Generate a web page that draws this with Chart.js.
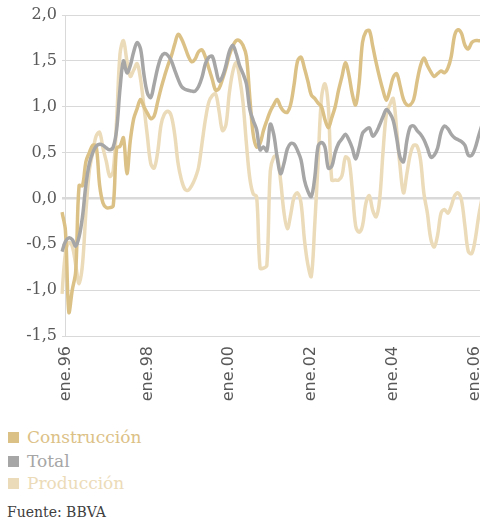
<!DOCTYPE html>
<html>
<head>
<meta charset="utf-8">
<script src="https://cdn.jsdelivr.net/npm/chart.js@4/dist/chart.umd.min.js"></script>
<style>
  html, body { margin: 0; padding: 0; background: #fff; width: 480px; height: 522px; overflow: hidden; }
  #wrap { position: absolute; left: 0; top: 0; width: 490px; height: 416px; }
  .leg { position: absolute; left: 8px; height: 12px; display: flex; align-items: center; font-family: "DejaVu Serif", serif; font-size: 17px; white-space: nowrap; }
  .leg span.box { display: inline-block; width: 11px; height: 11px; margin-right: 8px; }
  #fuente { position: absolute; left: 7px; top: 504px; font-family: "DejaVu Serif", serif; font-size: 14px; color: #404040; }
</style>
</head>
<body>
<div id="wrap"><canvas id="chart"></canvas></div>
<div class="leg" style="top:431px;color:#dcc186"><span class="box" style="background:#dcc186"></span>Construcción</div>
<div class="leg" style="top:455px;color:#a6a6a6"><span class="box" style="background:#a6a6a6"></span>Total</div>
<div class="leg" style="top:477px;color:#ecdbb8"><span class="box" style="background:#ecdbb8"></span>Producción</div>
<div id="fuente">Fuente: BBVA</div>
<script>
// monthly series, dic.95 .. mar.06
const meses = ['ene','feb','mar','abr','may','jun','jul','ago','sep','oct','nov','dic'];
const tickLabels = ['ene.96','ene.98','ene.00','ene.02','ene.04','ene.06'];

const labels = ['dic.95'];
for (let y = 96; y <= 106; y++) {
    for (let m = 0; m < 12; m++) {
        if (y === 106 && m > 2) break;
        labels.push(meses[m] + '.' + String(y % 100).padStart(2, '0'));
    }
}

const construccion = [
    -0.15,-0.35,-1.24,-1.0,-0.8,0.14,0.14,0.4,0.5,0.58,
    0.57,0.15,-0.05,-0.1,-0.1,-0.08,0.55,0.57,0.66,0.27,
    0.63,0.87,0.98,1.08,1.0,0.93,0.87,0.9,1.05,1.2,
    1.33,1.45,1.55,1.68,1.79,1.74,1.65,1.55,1.49,1.52,
    1.6,1.62,1.54,1.42,1.3,1.18,1.2,1.3,1.42,1.56,
    1.66,1.72,1.72,1.67,1.55,1.1,0.7,0.56,0.6,0.74,
    0.85,0.95,1.02,1.08,1.0,0.95,0.94,1.03,1.25,1.5,
    1.54,1.42,1.28,1.13,1.09,1.04,1.0,0.86,0.77,0.88,
    1.0,1.18,1.33,1.48,1.35,1.14,1.02,1.25,1.7,1.82,
    1.83,1.66,1.48,1.32,1.18,1.07,1.18,1.32,1.36,1.23,
    1.08,1.02,1.02,1.08,1.28,1.45,1.53,1.45,1.38,1.33,
    1.36,1.39,1.37,1.42,1.55,1.78,1.84,1.8,1.67,1.63,
    1.7,1.72,1.72,1.72
];

const total = [
    -0.58,-0.47,-0.43,-0.45,-0.52,-0.42,-0.2,0.15,0.38,0.5,
    0.57,0.59,0.58,0.55,0.53,0.56,0.75,1.2,1.5,1.37,
    1.45,1.6,1.7,1.63,1.35,1.15,1.1,1.25,1.42,1.54,
    1.58,1.56,1.5,1.4,1.3,1.22,1.19,1.18,1.17,1.17,
    1.22,1.32,1.47,1.54,1.55,1.42,1.28,1.33,1.45,1.6,
    1.67,1.58,1.45,1.36,1.25,0.97,0.85,0.75,0.53,0.56,
    0.52,0.81,0.7,0.45,0.27,0.38,0.54,0.6,0.59,0.52,
    0.42,0.2,0.08,0.02,0.22,0.57,0.61,0.56,0.33,0.35,
    0.5,0.6,0.65,0.7,0.64,0.55,0.43,0.55,0.71,0.75,
    0.77,0.68,0.72,0.8,0.89,0.97,0.93,0.85,0.66,0.45,
    0.4,0.63,0.78,0.79,0.74,0.7,0.64,0.55,0.45,0.47,
    0.55,0.72,0.79,0.76,0.7,0.66,0.64,0.62,0.58,0.47,
    0.47,0.55,0.68,0.8
];

const produccion = [
    -1.04,-0.6,-0.48,-0.52,-0.72,-0.93,-0.72,-0.15,0.3,0.5,
    0.68,0.72,0.55,0.4,0.24,0.3,0.85,1.58,1.72,1.5,
    1.33,1.4,1.47,1.3,1.0,0.68,0.38,0.33,0.5,0.8,
    0.92,0.95,0.9,0.7,0.38,0.2,0.1,0.09,0.14,0.22,
    0.34,0.6,0.86,1.05,1.12,1.14,0.95,0.74,0.8,1.15,
    1.38,1.48,1.32,1.05,0.6,0.22,0.05,0.02,-0.76,-0.76,
    -0.73,0.3,0.45,0.46,0.2,-0.15,-0.33,-0.17,0.02,0.06,
    -0.05,-0.45,-0.72,-0.85,-0.3,0.4,1.1,1.25,1.0,0.2,
    0.2,0.2,0.25,0.45,0.42,0.1,-0.3,-0.37,-0.3,-0.05,
    0.03,-0.13,-0.2,-0.02,0.5,0.92,1.02,1.09,0.75,0.35,
    0.06,0.27,0.48,0.58,0.57,0.42,0.05,-0.16,-0.44,-0.53,
    -0.4,-0.16,-0.12,-0.16,-0.08,0.03,0.06,-0.02,-0.3,-0.58,
    -0.6,-0.45,-0.2,0.0
];

const ctx = document.getElementById('chart').getContext('2d');
const chart = new Chart(ctx, {
    type: 'line',
    data: {
        labels: labels,
        datasets: [
            { label: 'Construcción', data: construccion, borderColor: '#dcc186', order: 1 },
            { label: 'Total', data: total, borderColor: '#a6a6a6', order: 0 },
            { label: 'Producción', data: produccion, borderColor: '#ecdbb8', order: 2 }
        ]
    },
    options: {
        responsive: true,
        maintainAspectRatio: false,
        animation: false,
        layout: { padding: { top: 15, right: 8, left: 0, bottom: 0 } },
        elements: {
            point: { radius: 0 },
            line: { borderWidth: 3.5, tension: 0.35, fill: false }
        },
        plugins: { legend: { display: false }, tooltip: { enabled: false } },
        scales: {
            x: {
                border: { display: false },
                grid: {
                    drawTicks: false,
                    color: (c) => c.index === 1 ? '#d9d9d9' : 'rgba(0,0,0,0)'
                },
                afterFit: (s) => {
                    s.height = 80;
                    s.paddingLeft = 0;
                    s.paddingRight = 0;
                },
                ticks: {
                    autoSkip: false,
                    minRotation: 90,
                    maxRotation: 90,
                    padding: 10,
                    color: '#595959',
                    font: { family: 'DejaVu Sans', size: 16 },
                    callback: function (v) {
                        const l = this.getLabelForValue(v);
                        return tickLabels.includes(l) ? l : '';
                    }
                }
            },
            y: {
                min: -1.5,
                max: 2.0,
                border: { display: false },
                afterFit: (s) => { s.width = 62; },
                grid: {
                    drawTicks: false,
                    color: '#d9d9d9',
                    lineWidth: (c) => c.tick && c.tick.value === 0 ? 2.5 : 1
                },
                ticks: {
                    stepSize: 0.5,
                    padding: 5,
                    color: '#595959',
                    font: { family: 'DejaVu Serif', size: 16 },
                    callback: (v) => v.toFixed(1).replace('.', ',')
                }
            }
        }
    }
});
</script>
</body>
</html>
